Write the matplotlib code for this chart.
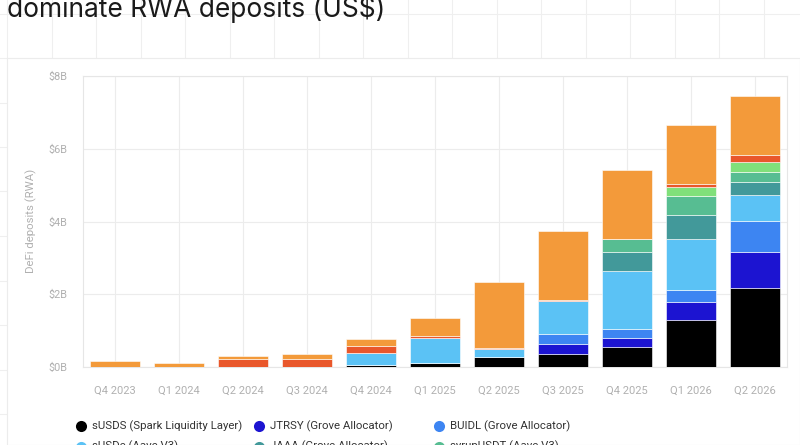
import matplotlib
matplotlib.use("Agg")
import matplotlib.pyplot as plt
from matplotlib.lines import Line2D
from matplotlib.patches import Rectangle
import numpy as np

categories = ["Q4 2023", "Q1 2024", "Q2 2024", "Q3 2024", "Q4 2024", "Q1 2025",
              "Q2 2025", "Q3 2025", "Q4 2025", "Q1 2026", "Q2 2026"]

sUSDS     = [0, 0, 0, 0, 0.05, 0.12, 0.28, 0.37, 0.55, 1.28, 2.18]
JTRSY     = [0, 0, 0, 0, 0, 0, 0, 0.25, 0.25, 0.52, 0.98]
BUIDL     = [0, 0, 0, 0, 0, 0, 0, 0.30, 0.24, 0.33, 0.85]
sUSDe     = [0, 0, 0, 0, 0.34, 0.67, 0.21, 0.90, 1.60, 1.38, 0.71]
JAAA      = [0, 0, 0, 0, 0, 0, 0, 0, 0.53, 0.66, 0.37]
syrupUSDT = [0, 0, 0, 0, 0, 0, 0, 0, 0.34, 0.52, 0.27]
series7   = [0, 0, 0, 0, 0, 0, 0, 0, 0, 0.26, 0.28]
series8   = [0, 0, 0.21, 0.21, 0.18, 0.06, 0.04, 0.03, 0, 0.09, 0.18]
series9   = [0.16, 0.12, 0.09, 0.16, 0.19, 0.50, 1.80, 1.88, 1.91, 1.62, 1.63]

series_names = ["sUSDS (Spark Liquidity Layer)", "JTRSY (Grove Allocator)", "BUIDL (Grove Allocator)",
                "sUSDe (Aave V3)", "JAAA (Grove Allocator)", "syrupUSDT (Aave V3)",
                "USTB (Grove Allocator)", "USDtb (Aave V3)", "Other"]
series_values = [sUSDS, JTRSY, BUIDL, sUSDe, JAAA, syrupUSDT, series7, series8, series9]
colors = ["#000000", "#1c14d1", "#3d85f2", "#5bc2f5", "#42999a", "#57bd92",
          "#80e07a", "#e9572b", "#f39a3a"]

yticks = [0, 2, 4, 6, 8]

W, H = 800, 445
fig = plt.figure(figsize=(W / 100, H / 100), dpi=100)
fig.patch.set_facecolor("white")

def fx(px):
    return px / W

def fy(py):
    return 1 - py / H

# faint page grid in background
gcol = "#efefef"
step = 44.5
x = 7.0
while x < W:
    fig.add_artist(Line2D([fx(x), fx(x)], [0, 1], color=gcol, lw=0.8, zorder=-5))
    x += step
y = 13.5
while y < H:
    fig.add_artist(Line2D([0, 1], [fy(y), fy(y)], color=gcol, lw=0.8, zorder=-5))
    y += step
# white panel
fig.add_artist(Rectangle((fx(7), 0), 1 - fx(7), fy(58), facecolor="white",
                         edgecolor="#ececec", lw=0.8, zorder=-4))

narrow = ["Roboto", "DejaVu Sans"]

# title (cut off at top, as in the reference)
fig.text(fx(7), fy(17.3), "dominate RWA deposits (US$)", fontsize=19,
         family=["Inter", "DejaVu Sans"], color="#1a1a1a", va="baseline", ha="left")

ax = fig.add_axes([fx(83), fy(367), fx(787) - fx(83), (367 - 76) / H])
ax.set_facecolor("white")
xpos = np.arange(len(categories))
bottom = np.zeros(len(categories))
for name, vals, c in zip(series_names, series_values, colors):
    v = np.array(vals, dtype=float)
    ax.bar(xpos, v, bottom=bottom, width=0.79, color=c, edgecolor="white",
           linewidth=0.4, label=name, zorder=3)
    bottom += v

ax.set_xlim(-0.5, len(categories) - 0.5)
ax.set_ylim(0, 8)
ax.set_yticks(yticks)
ax.set_yticklabels([f"${t}B" for t in yticks])
ax.set_xticks(xpos)
ax.set_xticklabels(categories)
ax.grid(True, color="#ececec", lw=0.8, zorder=0)
for s in ax.spines.values():
    s.set_color("#e6e6e6")
    s.set_linewidth(0.8)
ax.tick_params(length=0, colors="#b0b0b0")
ax.tick_params(axis="y", pad=11.5, labelsize=7.8)
ax.tick_params(axis="x", pad=13.5, labelsize=8)
for lab in ax.get_xticklabels() + ax.get_yticklabels():
    lab.set_family(narrow)
    lab.set_color("#b0b0b0")

fig.text(fx(31.7), fy(221), "DeFi deposits (RWA)", rotation=90, fontsize=8.2,
         family=narrow, color="#b0b0b0", ha="center", va="center")

# legend (manual, 3 columns, partly cut by figure edge as in the reference)
col_x = [81, 259, 439]
row_y = [426, 446.5, 467]
for i, (name, c) in enumerate(zip(series_names, colors)):
    r, k = divmod(i, 3)
    fig.add_artist(Line2D([fx(col_x[k])], [fy(row_y[r])], marker="o", markersize=8,
                          color=c, markeredgewidth=0, linestyle="none"))
    fig.text(fx(col_x[k] + 11), fy(row_y[r]), name, fontsize=8.2, family=narrow,
             color="#333333", va="center", ha="left")

fig.savefig("out.png", dpi=100, facecolor="white")
